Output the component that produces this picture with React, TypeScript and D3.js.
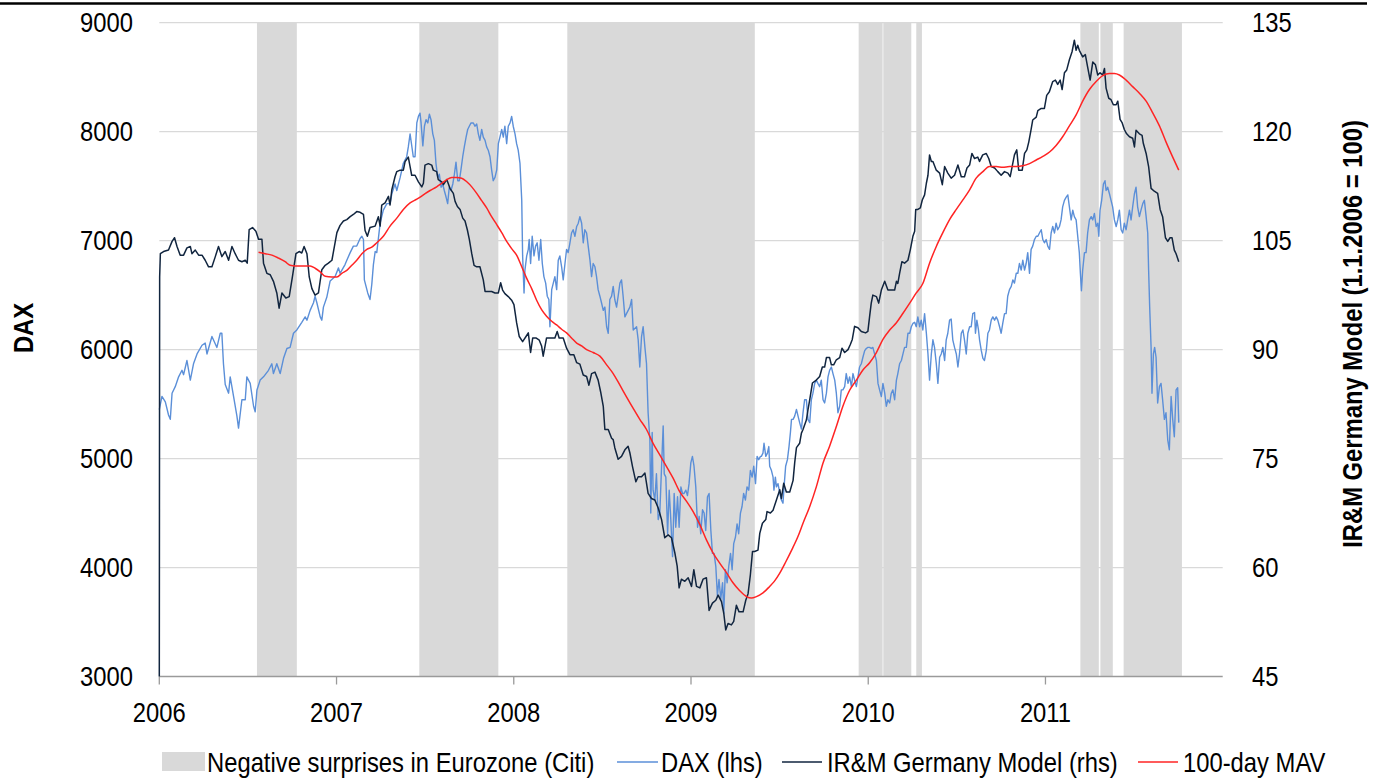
import React from "react";
import * as d3 from "d3";

// ---- data (t = decimal year) ----
const surpriseBands: [number, number][] = [
  [2006.551, 2006.776], [2007.467, 2007.913], [2008.302, 2009.36],
  [2009.946, 2010.081], [2010.085, 2010.243], [2010.271, 2010.303],
  [2011.197, 2011.301], [2011.31, 2011.38], [2011.441, 2011.77],
];

const daxSeries: [number, number][] = [
  [2006.0,5450],[2006.015,5570],[2006.034,5520],[2006.052,5400],[2006.062,5360],[2006.072,5600],[2006.09,5660],[2006.109,5750],[2006.128,5810],[2006.137,5770],
  [2006.156,5900],[2006.175,5720],[2006.193,5870],[2006.213,5960],[2006.241,6040],[2006.259,6060],[2006.269,5960],[2006.297,6120],[2006.325,6020],[2006.344,6150],
  [2006.353,6150],[2006.362,5870],[2006.372,5680],[2006.391,5600],[2006.4,5750],[2006.419,5570],[2006.438,5390],[2006.447,5280],[2006.466,5540],[2006.485,5540],
  [2006.494,5750],[2006.513,5690],[2006.532,5480],[2006.541,5430],[2006.551,5630],[2006.569,5720],[2006.588,5750],[2006.616,5810],[2006.635,5870],[2006.644,5780],
  [2006.663,5870],[2006.682,5780],[2006.701,5920],[2006.72,6010],[2006.738,6020],[2006.757,6150],[2006.776,6180],[2006.804,6250],[2006.823,6300],[2006.833,6270],
  [2006.851,6360],[2006.87,6430],[2006.879,6490],[2006.889,6430],[2006.908,6300],[2006.917,6270],[2006.926,6390],[2006.945,6480],[2006.964,6630],[2006.992,6670],
  [2007.011,6750],[2007.02,6700],[2007.048,6780],[2007.058,6820],[2007.077,6890],[2007.095,6950],[2007.114,6950],[2007.133,7020],[2007.143,7040],[2007.152,7010],
  [2007.157,6640],[2007.176,6520],[2007.189,6460],[2007.199,6600],[2007.208,6780],[2007.218,6900],[2007.227,6890],[2007.246,7160],[2007.264,7280],[2007.284,7340],
  [2007.302,7340],[2007.312,7430],[2007.33,7520],[2007.34,7460],[2007.359,7580],[2007.377,7710],[2007.396,7770],[2007.405,7860],[2007.415,7980],[2007.433,7770],
  [2007.443,7770],[2007.453,8080],[2007.462,8140],[2007.471,8170],[2007.477,8080],[2007.487,7870],[2007.496,8050],[2007.505,8110],[2007.515,8080],[2007.524,8160],
  [2007.533,8110],[2007.543,7980],[2007.552,7920],[2007.561,7710],[2007.571,7580],[2007.58,7610],[2007.59,7490],[2007.599,7520],[2007.608,7460],[2007.618,7400],
  [2007.627,7340],[2007.636,7490],[2007.646,7460],[2007.656,7520],[2007.665,7610],[2007.674,7720],[2007.684,7550],[2007.693,7550],[2007.702,7650],[2007.712,7770],
  [2007.721,7860],[2007.731,7950],[2007.74,8020],[2007.749,8050],[2007.759,8080],[2007.772,8080],[2007.781,8050],[2007.791,8070],[2007.8,7980],[2007.809,7920],
  [2007.819,8020],[2007.828,7950],[2007.838,7920],[2007.847,7860],[2007.856,7830],[2007.866,7770],[2007.875,7650],[2007.884,7550],[2007.894,7580],[2007.904,7650],
  [2007.913,7890],[2007.922,7950],[2007.932,8020],[2007.941,7950],[2007.95,8050],[2007.96,7890],[2007.969,8050],[2007.979,8080],[2007.988,8140],[2007.997,8050],
  [2008.007,7980],[2008.016,7890],[2008.025,7830],[2008.035,7710],[2008.045,7370],[2008.05,6860],[2008.058,6520],[2008.063,6730],[2008.073,6860],[2008.082,6920],
  [2008.087,7010],[2008.095,6790],[2008.104,7040],[2008.114,6860],[2008.123,6950],[2008.132,6980],[2008.142,6820],[2008.152,7010],[2008.161,6790],[2008.17,6670],
  [2008.18,6610],[2008.189,6490],[2008.198,6460],[2008.204,6210],[2008.214,6550],[2008.223,6610],[2008.232,6670],[2008.242,6550],[2008.251,6820],[2008.26,6860],
  [2008.27,6760],[2008.279,6640],[2008.289,6790],[2008.298,6920],[2008.307,6890],[2008.317,6980],[2008.326,7070],[2008.335,7100],[2008.345,7040],[2008.355,7130],
  [2008.364,7160],[2008.373,7220],[2008.383,7160],[2008.392,6980],[2008.401,7100],[2008.411,7070],[2008.42,6950],[2008.43,6820],[2008.439,6670],[2008.448,6790],
  [2008.458,6760],[2008.467,6670],[2008.476,6550],[2008.486,6490],[2008.495,6430],[2008.505,6360],[2008.514,6390],[2008.524,6210],[2008.533,6150],[2008.542,6460],
  [2008.552,6490],[2008.561,6580],[2008.57,6460],[2008.58,6390],[2008.589,6490],[2008.599,6610],[2008.608,6640],[2008.617,6490],[2008.627,6300],[2008.636,6330],
  [2008.655,6390],[2008.665,6460],[2008.674,6180],[2008.693,6210],[2008.702,6090],[2008.711,5840],[2008.721,6120],[2008.73,6210],[2008.74,6020],[2008.749,5870],
  [2008.758,5420],[2008.768,5170],[2008.773,4500],[2008.781,5240],[2008.786,4710],[2008.796,4620],[2008.805,4860],[2008.815,4440],[2008.824,4500],[2008.834,4930],
  [2008.843,5300],[2008.849,4860],[2008.858,4830],[2008.868,4310],[2008.877,4710],[2008.886,4440],[2008.896,4100],[2008.905,4680],[2008.914,4370],[2008.924,4650],
  [2008.933,4370],[2008.943,4740],[2008.952,4680],[2008.961,4680],[2008.971,4710],[2008.98,4660],[2008.989,4770],[2008.999,4960],[2009.008,5020],[2009.017,4930],
  [2009.027,4740],[2009.037,4370],[2009.046,4470],[2009.055,4310],[2009.065,4530],[2009.074,4500],[2009.083,4340],[2009.093,4650],[2009.102,4680],[2009.112,4340],
  [2009.121,4130],[2009.13,4130],[2009.14,4010],[2009.149,3740],[2009.158,3890],[2009.168,3710],[2009.178,3860],[2009.185,3580],[2009.194,3980],[2009.204,3860],
  [2009.213,4010],[2009.223,4130],[2009.232,3980],[2009.241,4220],[2009.251,4280],[2009.26,4400],[2009.269,4310],[2009.279,4500],[2009.288,4560],[2009.297,4680],
  [2009.307,4620],[2009.316,4740],[2009.326,4710],[2009.335,4890],[2009.345,4830],[2009.354,4930],[2009.364,4770],[2009.373,5020],[2009.382,4990],[2009.392,5020],
  [2009.397,5020],[2009.406,5050],[2009.412,5140],[2009.422,5020],[2009.431,5050],[2009.439,5110],[2009.444,4930],[2009.454,4890],[2009.463,4830],[2009.468,4710],
  [2009.476,4830],[2009.482,4740],[2009.491,4770],[2009.501,4680],[2009.51,4620],[2009.519,4590],[2009.525,4740],[2009.534,4930],[2009.544,4990],[2009.553,5110],
  [2009.561,5240],[2009.567,5360],[2009.576,5360],[2009.585,5390],[2009.595,5450],[2009.604,5390],[2009.613,5330],[2009.623,5270],[2009.632,5420],[2009.641,5540],
  [2009.651,5540],[2009.66,5360],[2009.67,5330],[2009.679,5540],[2009.688,5600],[2009.698,5690],[2009.707,5720],[2009.716,5690],[2009.726,5660],[2009.735,5720],
  [2009.745,5540],[2009.754,5510],[2009.764,5600],[2009.773,5750],[2009.782,5810],[2009.792,5840],[2009.801,5780],[2009.811,5720],[2009.82,5600],[2009.829,5420],
  [2009.839,5480],[2009.848,5630],[2009.857,5630],[2009.867,5660],[2009.876,5780],[2009.886,5690],[2009.895,5750],[2009.905,5660],[2009.914,5780],[2009.923,5720],
  [2009.933,5660],[2009.942,5750],[2009.951,5840],[2009.961,5870],[2009.97,5930],[2009.98,5990],[2009.989,6010],[2009.998,6020],[2010.008,6020],[2010.017,6010],
  [2010.026,6020],[2010.036,5960],[2010.046,5900],[2010.055,5690],[2010.064,5630],[2010.074,5570],[2010.083,5690],[2010.093,5600],[2010.102,5480],[2010.111,5540],
  [2010.121,5510],[2010.13,5600],[2010.139,5630],[2010.149,5540],[2010.159,5720],[2010.167,5780],[2010.177,5870],[2010.187,5900],[2010.196,5960],[2010.205,6020],
  [2010.215,6020],[2010.224,6150],[2010.234,6150],[2010.243,6210],[2010.252,6240],[2010.262,6250],[2010.271,6210],[2010.28,6300],[2010.29,6210],[2010.299,6270],
  [2010.308,6180],[2010.318,6330],[2010.328,6150],[2010.337,5960],[2010.346,5720],[2010.356,5960],[2010.365,6090],[2010.374,6020],[2010.384,5870],[2010.393,5690],
  [2010.403,5930],[2010.412,5960],[2010.421,6020],[2010.431,5900],[2010.44,6090],[2010.449,6150],[2010.459,6270],[2010.468,6280],[2010.477,6090],[2010.487,6020],
  [2010.497,5960],[2010.506,5840],[2010.515,5960],[2010.525,6150],[2010.534,6180],[2010.543,6090],[2010.553,5960],[2010.562,6150],[2010.572,6210],[2010.581,6210],
  [2010.59,6330],[2010.6,6340],[2010.605,6150],[2010.613,6270],[2010.622,6180],[2010.628,6090],[2010.638,5990],[2010.647,5920],[2010.656,5900],[2010.666,5990],
  [2010.675,6150],[2010.684,6180],[2010.694,6270],[2010.703,6300],[2010.713,6270],[2010.722,6300],[2010.731,6270],[2010.741,6210],[2010.75,6150],[2010.759,6240],
  [2010.769,6330],[2010.778,6330],[2010.787,6490],[2010.797,6550],[2010.807,6580],[2010.816,6640],[2010.825,6610],[2010.835,6700],[2010.844,6700],[2010.853,6790],
  [2010.863,6730],[2010.872,6820],[2010.882,6730],[2010.891,6790],[2010.9,6890],[2010.91,6700],[2010.919,6920],[2010.928,6950],[2010.938,7010],[2010.948,7040],
  [2010.957,7040],[2010.966,7070],[2010.976,7100],[2010.985,7010],[2010.994,6980],[2011.004,7010],[2011.013,6950],[2011.023,6920],[2011.032,7070],[2011.041,7130],
  [2011.051,7070],[2011.06,7160],[2011.069,7100],[2011.079,7130],[2011.088,7190],[2011.097,7310],[2011.107,7370],[2011.117,7400],[2011.126,7420],[2011.135,7310],
  [2011.145,7190],[2011.154,7280],[2011.163,7220],[2011.173,7190],[2011.182,7040],[2011.191,6890],[2011.197,6700],[2011.203,6540],[2011.21,6730],[2011.22,6890],
  [2011.229,6890],[2011.238,7070],[2011.248,7190],[2011.258,7220],[2011.267,7190],[2011.276,7250],[2011.286,7130],[2011.295,7160],[2011.301,7040],[2011.308,7280],
  [2011.317,7370],[2011.327,7520],[2011.336,7550],[2011.342,7460],[2011.351,7490],[2011.361,7430],[2011.37,7370],[2011.379,7310],[2011.389,7190],[2011.399,7130],
  [2011.408,7190],[2011.417,7280],[2011.427,7100],[2011.436,7070],[2011.445,7160],[2011.455,7100],[2011.464,7190],[2011.474,7280],[2011.483,7190],[2011.492,7310],
  [2011.502,7430],[2011.511,7490],[2011.52,7310],[2011.53,7220],[2011.539,7280],[2011.549,7340],[2011.558,7370],[2011.568,7220],[2011.577,7070],[2011.582,6730],
  [2011.588,6390],[2011.596,6020],[2011.601,5600],[2011.609,5960],[2011.616,6020],[2011.624,5930],[2011.633,5510],[2011.643,5660],[2011.652,5690],[2011.661,5540],
  [2011.671,5360],[2011.68,5420],[2011.69,5170],[2011.699,5080],[2011.709,5570],[2011.718,5360],[2011.727,5200],[2011.737,5630],[2011.746,5650],[2011.752,5330],
];

const modelSeries: [number, number][] = [
  [2006.0,45],[2006.002,100.0],[2006.006,103.2],[2006.024,103.5],[2006.052,103.7],[2006.072,104.9],[2006.086,105.4],[2006.1,104.2],[2006.118,103.0],[2006.137,103.0],
  [2006.156,104.0],[2006.175,104.2],[2006.184,103.2],[2006.203,103.7],[2006.222,103.0],[2006.241,103.0],[2006.259,102.3],[2006.278,101.4],[2006.297,101.4],[2006.316,102.8],
  [2006.334,104.2],[2006.353,102.8],[2006.372,103.5],[2006.391,102.3],[2006.41,104.2],[2006.428,103.2],[2006.447,102.3],[2006.466,102.1],[2006.485,102.3],[2006.496,101.9],
  [2006.507,106.5],[2006.526,106.8],[2006.545,106.3],[2006.56,105.2],[2006.579,105.2],[2006.588,101.9],[2006.607,100.5],[2006.626,100.3],[2006.644,99.4],[2006.663,97.8],
  [2006.676,95.7],[2006.692,97.8],[2006.714,97.1],[2006.733,97.3],[2006.751,100.0],[2006.771,103.2],[2006.789,103.5],[2006.804,103.3],[2006.817,104.2],[2006.833,103.2],
  [2006.846,100.0],[2006.861,98.4],[2006.879,97.5],[2006.898,97.8],[2006.917,101.0],[2006.936,101.6],[2006.954,101.9],[2006.974,102.3],[2007.002,106.1],[2007.02,107.1],
  [2007.039,107.7],[2007.058,107.9],[2007.077,108.3],[2007.095,108.6],[2007.114,109.0],[2007.133,108.9],[2007.152,108.6],[2007.161,106.4],[2007.174,105.6],[2007.189,106.8],
  [2007.218,107.0],[2007.236,108.3],[2007.246,107.0],[2007.255,109.9],[2007.274,110.2],[2007.293,111.1],[2007.302,109.9],[2007.312,112.0],[2007.33,113.8],[2007.34,114.5],
  [2007.359,114.7],[2007.377,114.7],[2007.387,115.9],[2007.405,116.5],[2007.415,115.2],[2007.424,114.0],[2007.443,114.0],[2007.462,113.1],[2007.481,112.4],[2007.49,112.9],
  [2007.499,115.4],[2007.518,115.6],[2007.537,115.4],[2007.546,114.7],[2007.565,114.5],[2007.574,113.4],[2007.594,113.1],[2007.603,112.7],[2007.622,113.4],[2007.64,112.2],
  [2007.659,111.5],[2007.669,110.4],[2007.682,109.7],[2007.697,109.3],[2007.712,108.1],[2007.725,107.7],[2007.738,106.5],[2007.749,105.2],[2007.763,103.2],[2007.776,101.6],
  [2007.791,101.4],[2007.809,101.4],[2007.828,99.6],[2007.838,98.0],[2007.856,98.0],[2007.875,98.0],[2007.894,97.8],[2007.913,97.8],[2007.926,99.2],[2007.937,98.2],
  [2007.95,97.7],[2007.969,97.3],[2007.988,96.8],[2008.001,96.2],[2008.016,93.7],[2008.031,91.8],[2008.05,91.1],[2008.069,91.8],[2008.082,92.3],[2008.095,89.6],
  [2008.107,91.6],[2008.125,91.6],[2008.144,91.3],[2008.157,90.5],[2008.166,89.1],[2008.185,91.6],[2008.214,91.6],[2008.232,91.6],[2008.245,92.5],[2008.256,91.6],
  [2008.279,91.6],[2008.298,90.2],[2008.317,89.3],[2008.339,89.3],[2008.355,88.2],[2008.373,88.0],[2008.392,86.5],[2008.411,86.3],[2008.424,85.1],[2008.439,86.7],
  [2008.458,86.9],[2008.476,85.8],[2008.49,84.2],[2008.505,82.2],[2008.514,79.0],[2008.533,79.0],[2008.552,77.8],[2008.561,77.6],[2008.57,76.5],[2008.589,74.9],
  [2008.608,75.3],[2008.627,76.2],[2008.645,76.7],[2008.655,75.8],[2008.67,73.9],[2008.689,71.8],[2008.702,72.5],[2008.721,72.5],[2008.74,73.0],[2008.758,70.2],
  [2008.777,69.5],[2008.796,69.3],[2008.815,68.2],[2008.834,66.6],[2008.852,64.1],[2008.871,64.5],[2008.89,64.1],[2008.909,62.0],[2008.922,60.2],[2008.933,57.2],
  [2008.946,58.4],[2008.965,58.1],[2008.984,58.6],[2009.003,57.4],[2009.016,59.7],[2009.031,57.4],[2009.05,57.2],[2009.068,58.4],[2009.087,58.6],[2009.102,54.1],
  [2009.121,55.1],[2009.14,55.5],[2009.153,56.2],[2009.172,55.3],[2009.185,53.7],[2009.196,51.4],[2009.209,52.3],[2009.228,52.1],[2009.241,52.6],[2009.256,54.8],
  [2009.271,53.9],[2009.294,53.9],[2009.309,55.5],[2009.322,56.4],[2009.335,59.0],[2009.347,62.2],[2009.359,62.2],[2009.378,62.4],[2009.388,64.7],[2009.403,66.1],
  [2009.422,66.6],[2009.429,67.7],[2009.448,67.5],[2009.463,67.9],[2009.482,69.3],[2009.501,70.7],[2009.51,69.5],[2009.523,71.6],[2009.538,70.4],[2009.557,70.4],
  [2009.576,72.0],[2009.585,74.4],[2009.595,76.5],[2009.613,77.1],[2009.623,78.5],[2009.632,79.0],[2009.651,80.3],[2009.66,81.7],[2009.67,83.1],[2009.685,85.4],
  [2009.707,85.8],[2009.726,86.3],[2009.741,87.6],[2009.754,87.6],[2009.764,88.9],[2009.782,88.9],[2009.792,87.9],[2009.805,87.9],[2009.82,88.6],[2009.839,88.9],
  [2009.852,90.2],[2009.867,89.6],[2009.886,90.0],[2009.899,90.7],[2009.91,91.4],[2009.923,93.2],[2009.942,93.0],[2009.961,92.5],[2009.985,92.3],[2009.998,92.5],
  [2010.008,94.6],[2010.017,96.4],[2010.026,97.5],[2010.046,97.3],[2010.059,96.4],[2010.074,98.2],[2010.093,99.4],[2010.111,98.2],[2010.13,98.2],[2010.149,98.2],
  [2010.159,99.4],[2010.167,99.1],[2010.177,100.5],[2010.19,102.1],[2010.205,101.9],[2010.224,102.3],[2010.237,103.7],[2010.252,105.6],[2010.262,106.3],[2010.268,109.3],
  [2010.28,109.3],[2010.294,109.5],[2010.305,110.6],[2010.318,111.3],[2010.328,112.9],[2010.337,114.0],[2010.346,116.8],[2010.356,115.9],[2010.365,115.9],[2010.384,114.7],
  [2010.403,114.3],[2010.418,112.7],[2010.431,115.2],[2010.449,114.3],[2010.468,113.6],[2010.487,114.0],[2010.506,115.4],[2010.525,113.8],[2010.543,113.8],[2010.557,115.0],
  [2010.572,115.4],[2010.585,117.0],[2010.6,116.3],[2010.618,116.5],[2010.628,115.9],[2010.646,116.8],[2010.666,117.0],[2010.68,116.3],[2010.694,115.2],[2010.713,115.0],
  [2010.731,114.5],[2010.75,114.0],[2010.769,114.5],[2010.788,114.3],[2010.801,113.8],[2010.812,115.2],[2010.825,116.8],[2010.838,117.5],[2010.849,114.7],[2010.869,114.7],
  [2010.882,117.0],[2010.895,117.5],[2010.906,118.6],[2010.919,120.3],[2010.928,121.6],[2010.948,122.0],[2010.957,122.9],[2010.976,123.2],[2010.994,123.2],[2011.007,125.0],
  [2011.022,125.5],[2011.041,126.9],[2011.056,127.1],[2011.069,126.5],[2011.083,127.1],[2011.094,125.8],[2011.107,128.1],[2011.12,128.5],[2011.135,129.9],[2011.15,131.0],
  [2011.163,132.6],[2011.173,131.2],[2011.182,131.9],[2011.191,131.2],[2011.21,130.3],[2011.225,130.6],[2011.238,128.9],[2011.252,127.1],[2011.267,129.6],[2011.282,129.2],
  [2011.295,127.8],[2011.308,128.1],[2011.323,127.8],[2011.333,128.7],[2011.342,126.0],[2011.357,124.6],[2011.37,124.4],[2011.383,123.7],[2011.399,123.7],[2011.408,124.2],
  [2011.421,121.7],[2011.433,121.2],[2011.445,120.3],[2011.458,119.7],[2011.474,119.3],[2011.492,119.1],[2011.502,117.9],[2011.511,120.2],[2011.53,119.7],[2011.545,119.5],
  [2011.552,118.4],[2011.568,117.0],[2011.582,115.2],[2011.596,112.2],[2011.614,111.8],[2011.633,111.5],[2011.647,109.3],[2011.661,108.3],[2011.677,105.4],[2011.69,104.9],
  [2011.703,105.4],[2011.714,105.4],[2011.727,103.7],[2011.737,103.2],[2011.752,102.1],
];

const mavSeries: [number, number][] = [
  [2006.56,103.4],[2006.598,103.2],[2006.635,103.0],[2006.672,102.6],[2006.71,102.1],[2006.738,101.6],[2006.767,101.5],[2006.804,101.5],[2006.851,101.5],[2006.879,101.2],
  [2006.908,100.7],[2006.936,100.1],[2006.974,100.0],[2007.002,100.0],[2007.03,100.5],[2007.058,100.9],[2007.086,101.6],[2007.114,102.3],[2007.143,103.2],[2007.171,103.8],
  [2007.199,104.1],[2007.227,104.7],[2007.264,105.6],[2007.302,107.0],[2007.34,108.1],[2007.377,109.3],[2007.415,110.2],[2007.453,110.7],[2007.49,111.3],[2007.528,111.9],
  [2007.565,112.4],[2007.594,112.9],[2007.622,113.4],[2007.65,113.7],[2007.678,113.7],[2007.706,113.6],[2007.735,113.1],[2007.763,112.4],[2007.791,111.5],[2007.819,110.5],
  [2007.847,109.5],[2007.875,108.3],[2007.904,107.2],[2007.932,106.1],[2007.96,104.9],[2007.988,103.9],[2008.016,103.0],[2008.045,101.4],[2008.073,99.8],[2008.101,98.4],
  [2008.129,96.8],[2008.157,95.5],[2008.185,94.6],[2008.214,93.9],[2008.242,93.4],[2008.27,92.8],[2008.298,92.3],[2008.326,91.6],[2008.355,90.9],[2008.383,90.5],
  [2008.411,90.0],[2008.448,89.6],[2008.486,89.1],[2008.524,87.9],[2008.561,86.7],[2008.599,85.1],[2008.636,83.5],[2008.674,81.9],[2008.711,80.4],[2008.749,79.0],
  [2008.786,77.1],[2008.824,75.5],[2008.862,73.9],[2008.899,72.3],[2008.937,70.4],[2008.975,69.1],[2009.012,67.7],[2009.05,65.9],[2009.087,63.8],[2009.125,62.0],
  [2009.162,60.6],[2009.2,59.3],[2009.237,57.9],[2009.275,56.8],[2009.313,56.0],[2009.341,55.8],[2009.369,56.0],[2009.406,56.5],[2009.444,57.4],[2009.47,58.1],
  [2009.5,59.2],[2009.535,60.8],[2009.57,62.5],[2009.604,64.3],[2009.632,66.1],[2009.67,68.4],[2009.707,71.1],[2009.745,74.4],[2009.782,76.7],[2009.82,79.4],
  [2009.857,82.2],[2009.895,84.4],[2009.933,85.8],[2009.97,87.2],[2010.008,88.2],[2010.046,89.6],[2010.083,91.4],[2010.121,92.7],[2010.159,93.7],[2010.196,95.0],
  [2010.234,96.4],[2010.271,97.8],[2010.308,99.1],[2010.346,101.9],[2010.384,104.2],[2010.421,106.1],[2010.459,107.9],[2010.497,109.3],[2010.534,110.6],[2010.572,112.0],
  [2010.609,113.6],[2010.647,114.5],[2010.684,115.2],[2010.722,115.2],[2010.759,115.1],[2010.797,115.2],[2010.835,115.2],[2010.872,115.3],[2010.91,115.6],[2010.948,116.1],
  [2010.985,116.6],[2011.023,117.2],[2011.06,118.1],[2011.097,119.3],[2011.135,120.8],[2011.173,122.3],[2011.21,124.2],[2011.248,125.8],[2011.286,126.9],[2011.323,127.7],
  [2011.361,128.0],[2011.389,128.0],[2011.417,127.8],[2011.455,127.1],[2011.492,126.2],[2011.53,125.3],[2011.568,124.2],[2011.605,122.6],[2011.643,120.8],[2011.68,118.6],
  [2011.718,116.5],[2011.752,114.7],
];

const leftTicks = [3000, 4000, 5000, 6000, 7000, 8000, 9000];
const rightTicks = [45, 60, 75, 90, 105, 120, 135];
const yearTicks = [2006, 2007, 2008, 2009, 2010, 2011];

const legendLabels = [
  "Negative surprises in Eurozone (Citi)",
  "DAX (lhs)",
  "IR&M Germany Model (rhs)",
  "100-day MAV",
];
const leftTitle = "DAX";
const rightTitle = "IR&M Germany Model (1.1.2006 = 100)";

// ---- styling ----
const W = 1374;
const H = 779;
const plot = { left: 159.3, right: 1222.7, top: 22.7, bottom: 676.5 };
const FONT = "'Liberation Sans', Arial, sans-serif";
const SQUEEZE = 0.85;
const C_BAND = "#d9d9d9";
const C_DAX = "#5b8fd8";
const C_MODEL = "#11253f";
const C_MAV = "#ff2424";

type TProps = {
  x: number;
  y: number;
  anchor?: "start" | "middle" | "end";
  size?: number;
  bold?: boolean;
  rotate?: number;
  children: React.ReactNode;
};

function NText({ x, y, anchor = "start", size = 28, bold = false, rotate = 0, children }: TProps) {
  return (
    <g transform={`translate(${x},${y}) rotate(${rotate}) scale(${SQUEEZE},1)`}>
      <text
        x={0}
        y={0}
        textAnchor={anchor}
        dominantBaseline="central"
        fontSize={size}
        fontWeight={bold ? "bold" : "normal"}
        fontFamily={FONT}
        fill="#000"
      >
        {children}
      </text>
    </g>
  );
}

export default function App() {
  const x = d3.scaleLinear().domain([2006, 2012]).range([plot.left, plot.right]);
  const yL = d3.scaleLinear().domain([3000, 9000]).range([plot.bottom, plot.top]);
  const yR = d3.scaleLinear().domain([45, 135]).range([plot.bottom, plot.top]);

  const daxLine = d3.line<[number, number]>().x((d) => x(d[0])).y((d) => yL(d[1]));
  const rLine = d3.line<[number, number]>().x((d) => x(d[0])).y((d) => yR(d[1]));
  const mavLine = d3
    .line<[number, number]>()
    .x((d) => x(d[0]))
    .y((d) => yR(d[1]))
    .curve(d3.curveMonotoneX);

  const legendY = 762;

  return (
    <div style={{ position: "absolute", left: 0, top: 0, width: W, height: H, background: "#fff" }}>
      <svg width={W} height={H} style={{ display: "block" }}>
        <rect x={0} y={0} width={W} height={H} fill="#fff" />
        <line x1={0} x2={1367} y1={3.5} y2={3.5} stroke="#000" strokeWidth={2.5} />

        {/* gridlines */}
        {leftTicks.slice(1).map((t) => (
          <line key={"g" + t} x1={plot.left} x2={plot.right} y1={yL(t)} y2={yL(t)} stroke="#d9d9d9" strokeWidth={1.3} />
        ))}

        {/* shaded bands */}
        {surpriseBands.map((b, i) => (
          <rect key={"b" + i} x={x(b[0])} y={plot.top} width={x(b[1]) - x(b[0])} height={plot.bottom - plot.top} fill={C_BAND} />
        ))}

        {/* x axis */}
        <line x1={plot.left} x2={plot.right} y1={plot.bottom} y2={plot.bottom} stroke="#9a9a9a" strokeWidth={1.3} />
        {yearTicks.map((t) => (
          <g key={"xt" + t}>
            <line x1={x(t)} x2={x(t)} y1={plot.bottom} y2={plot.bottom + 8} stroke="#9a9a9a" strokeWidth={1.3} />
            <NText x={x(t)} y={712} anchor="middle">{t}</NText>
          </g>
        ))}

        {/* series */}
        <path d={daxLine(daxSeries) || ""} fill="none" stroke={C_DAX} strokeWidth={1.4} strokeLinejoin="round" />
        <path d={rLine(modelSeries) || ""} fill="none" stroke={C_MODEL} strokeWidth={1.5} strokeLinejoin="round" />
        <path d={mavLine(mavSeries) || ""} fill="none" stroke={C_MAV} strokeWidth={1.5} strokeLinejoin="round" />

        {/* left axis labels */}
        {leftTicks.map((t) => (
          <NText key={"l" + t} x={133} y={yL(t)} anchor="end">{t}</NText>
        ))}
        {/* right axis labels */}
        {rightTicks.map((t) => (
          <NText key={"r" + t} x={1252} y={yR(t)} anchor="start">{t}</NText>
        ))}

        {/* axis titles */}
        <NText x={23} y={328} anchor="middle" bold rotate={-90}>{leftTitle}</NText>
        <NText x={1352} y={334} anchor="middle" bold rotate={-90}>{rightTitle}</NText>

        {/* legend */}
        <rect x={162} y={752} width={43} height={19} fill={C_BAND} />
        <NText x={207} y={legendY}>{legendLabels[0]}</NText>
        <line x1={617} x2={658} y1={legendY} y2={legendY} stroke={C_DAX} strokeWidth={1.5} />
        <NText x={661} y={legendY}>{legendLabels[1]}</NText>
        <line x1={782} x2={822} y1={legendY} y2={legendY} stroke={C_MODEL} strokeWidth={1.5} />
        <NText x={827} y={legendY}>{legendLabels[2]}</NText>
        <line x1={1138} x2={1178} y1={legendY} y2={legendY} stroke={C_MAV} strokeWidth={1.5} />
        <NText x={1183} y={legendY}>{legendLabels[3]}</NText>
      </svg>
    </div>
  );
}
